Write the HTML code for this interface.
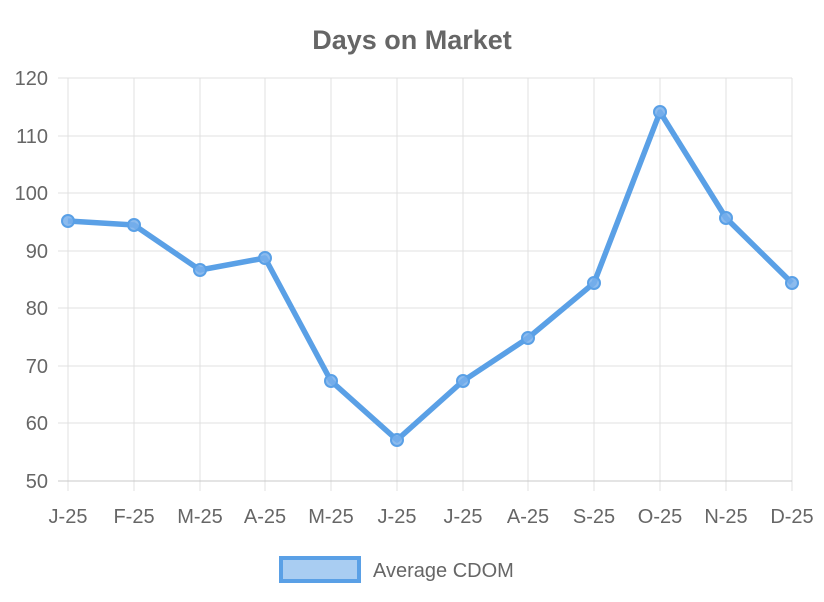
<!DOCTYPE html>
<html><head><meta charset="utf-8"><style>
html,body{margin:0;padding:0;background:#fff;}
svg{display:block;font-family:"Liberation Sans",Arial,sans-serif;}
</style></head><body>
<svg width="824" height="602" viewBox="0 0 824 602" xmlns="http://www.w3.org/2000/svg">
<text x="412" y="49" text-anchor="middle" font-size="27" font-weight="bold" fill="#666">Days on Market</text>
<g stroke="#e1e1e1" stroke-width="1">
<line x1="58" y1="78" x2="792" y2="78"/>
<line x1="58" y1="136" x2="792" y2="136"/>
<line x1="58" y1="193" x2="792" y2="193"/>
<line x1="58" y1="251" x2="792" y2="251"/>
<line x1="58" y1="308" x2="792" y2="308"/>
<line x1="58" y1="366" x2="792" y2="366"/>
<line x1="58" y1="423" x2="792" y2="423"/>
<line x1="68" y1="78" x2="68" y2="491"/>
<line x1="134" y1="78" x2="134" y2="491"/>
<line x1="200" y1="78" x2="200" y2="491"/>
<line x1="265" y1="78" x2="265" y2="491"/>
<line x1="331" y1="78" x2="331" y2="491"/>
<line x1="397" y1="78" x2="397" y2="491"/>
<line x1="463" y1="78" x2="463" y2="491"/>
<line x1="528" y1="78" x2="528" y2="491"/>
<line x1="594" y1="78" x2="594" y2="491"/>
<line x1="660" y1="78" x2="660" y2="491"/>
<line x1="726" y1="78" x2="726" y2="491"/>
<line x1="792" y1="78" x2="792" y2="491"/>
</g>
<line x1="58" y1="481" x2="792" y2="481" stroke="#c8c8c8"/>
<g font-size="20" fill="#666" text-anchor="end">
<text x="48" y="85">120</text><text x="48" y="143">110</text><text x="48" y="200">100</text>
<text x="48" y="258">90</text><text x="48" y="315">80</text><text x="48" y="373">70</text>
<text x="48" y="430">60</text><text x="48" y="488">50</text>
</g>
<g font-size="20" fill="#666" text-anchor="middle">
<text x="68" y="523">J-25</text><text x="134" y="523">F-25</text><text x="200" y="523">M-25</text>
<text x="265" y="523">A-25</text><text x="331" y="523">M-25</text><text x="397" y="523">J-25</text>
<text x="463" y="523">J-25</text><text x="528" y="523">A-25</text><text x="594" y="523">S-25</text>
<text x="660" y="523">O-25</text><text x="726" y="523">N-25</text><text x="792" y="523">D-25</text>
</g>
<polyline fill="none" stroke="#5aa0e6" stroke-width="5.5" stroke-linejoin="round" points="68,221 134,225 200,270 265,258 331,381 397,440 463,381 528,338 594,283 660,112 726,218 792,283"/>
<g fill="rgba(120,175,235,0.85)" stroke="#5aa0e6" stroke-width="2">
<circle cx="68" cy="221" r="6"/><circle cx="134" cy="225" r="6"/><circle cx="200" cy="270" r="6"/>
<circle cx="265" cy="258" r="6"/><circle cx="331" cy="381" r="6"/><circle cx="397" cy="440" r="6"/>
<circle cx="463" cy="381" r="6"/><circle cx="528" cy="338" r="6"/><circle cx="594" cy="283" r="6"/>
<circle cx="660" cy="112" r="6"/><circle cx="726" cy="218" r="6"/><circle cx="792" cy="283" r="6"/>
</g>
<rect x="281" y="558" width="78" height="23" fill="#a9cdf2" stroke="#5aa0e6" stroke-width="4"/>
<text x="373" y="577" font-size="20" fill="#666">Average CDOM</text>
</svg>
</body></html>
